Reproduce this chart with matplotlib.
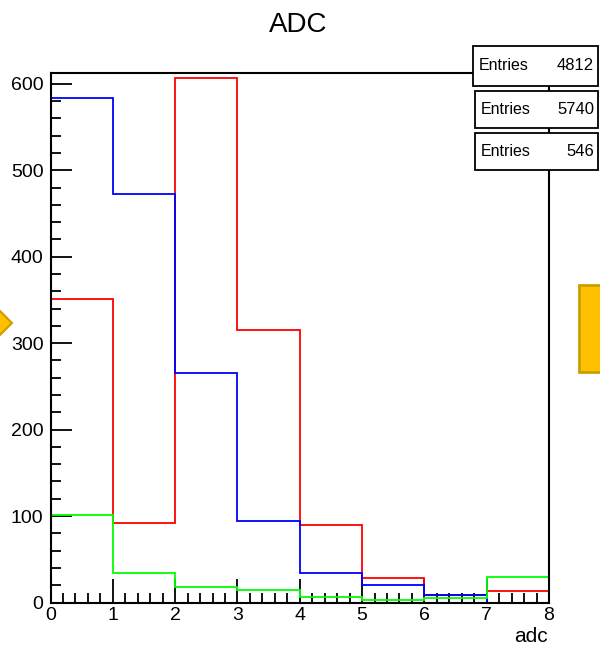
import numpy as np
import matplotlib
matplotlib.use('Agg')
import matplotlib.pyplot as plt
from matplotlib.patches import Rectangle, Polygon
from matplotlib.ticker import MultipleLocator

plt.rcParams['font.family'] = ['Liberation Sans', 'DejaVu Sans']

# histogram contents (8 bins, adc 0..8)
edges = np.arange(0, 9)
blue = [583, 473, 265, 94, 34, 20, 9, 0]
red = [351, 92, 607, 315, 90, 28, 9, 13]
green = [101, 34, 18, 15, 6, 3, 5.5, 30]
entries = ['4812', '5740', '546']

W, H = 600, 646
fig = plt.figure(figsize=(W / 100, H / 100), dpi=100)
ax = fig.add_axes([50.5 / W, 1 - 602.5 / H, (549 - 50.5) / W, (602.5 - 73.3) / H])

ax.stairs(red, edges, baseline=None, color='#ff0000', lw=1.3, zorder=2)
ax.stairs(blue, edges, baseline=None, color='#0000ff', lw=1.3, zorder=3)
ax.stairs(green, edges, baseline=None, color='#00ff00', lw=1.3, zorder=4)

ax.set_xlim(0, 8)
ax.set_ylim(0, max(blue) * 1.05)
ax.xaxis.set_major_locator(MultipleLocator(1))
ax.xaxis.set_minor_locator(MultipleLocator(0.2))
ax.yaxis.set_major_locator(MultipleLocator(100))
ax.yaxis.set_minor_locator(MultipleLocator(20))
ax.tick_params(which='both', direction='in', top=False, right=False,
               width=1.3, labelsize=14, colors='black')
ax.tick_params(which='major', length=15, pad=5)
ax.tick_params(which='minor', length=7)
ax.tick_params(axis='x', which='major', length=17, pad=3)
for s in ax.spines.values():
    s.set_linewidth(1.5)
    s.set_zorder(5)

fig.text(298 / W, 1 - 25 / H, 'ADC', ha='center', va='center', fontsize=20)
fig.text(548 / W, 1 - 637 / H, 'adc', ha='right', va='center', fontsize=15)

# stat boxes
boxes = [(473, 46, 598, 86), (475, 91, 598, 128), (475, 133, 598, 170)]
for (x0, y0, x1, y1), n in zip(boxes, entries):
    fig.add_artist(Rectangle((x0 / W, 1 - y1 / H), (x1 - x0) / W, (y1 - y0) / H,
                             transform=fig.transFigure, facecolor='white',
                             edgecolor='black', lw=1.3, zorder=10))
    yc = 1 - (y0 + y1) / 2 / H
    fig.text((x0 + 6) / W, yc, 'Entries', ha='left', va='center', fontsize=11.5, zorder=11)
    fig.text((x1 - 4) / W, yc, n, ha='right', va='center', fontsize=12, zorder=11)

# orange overlay markers at the edges
diamond = [(-15, 323), (-2, 309), (12, 323), (-2, 337)]
fig.add_artist(Polygon([(x / W, 1 - y / H) for x, y in diamond], closed=True,
                       transform=fig.transFigure, facecolor='#ffc000',
                       edgecolor='#cc9c00', lw=1.5, zorder=12))
fig.add_artist(Rectangle((579 / W, 1 - 372 / H), 30 / W, 87 / H,
                         transform=fig.transFigure, facecolor='#ffc000',
                         edgecolor='#c9a000', lw=2, zorder=12))

fig.savefig('out.png', dpi=100)
